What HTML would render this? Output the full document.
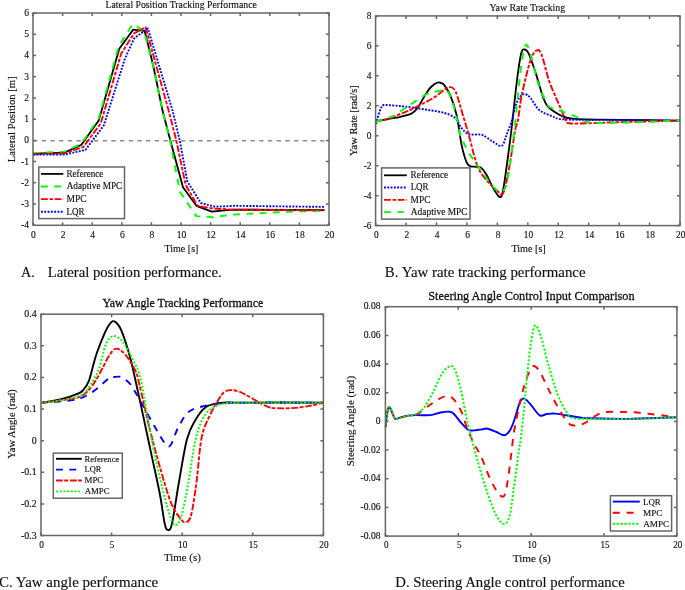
<!DOCTYPE html><html><head><meta charset="utf-8"><style>html,body{margin:0;padding:0;background:#fff;}svg{display:block;}</style></head><body>
<svg width="685" height="590" viewBox="0 0 685 590">
<rect width="685" height="590" fill="#fff"/>
<line x1="33" y1="140.68" x2="329" y2="140.68" stroke="#8c8c8c" stroke-width="1.6" stroke-dasharray="4.35 4.35"/>
<g stroke-linejoin="round">
<path d="M33,153.7 L64.5,152.6 L81.4,144.8 L98.7,120.4 L119.3,48.8 L133.2,29.6 L144.6,30.8 L153.3,65.8 L162.4,110.1 L168.6,133.9 L183,187.3 L196.4,205.8 L211.7,211.7 L232.6,209.6 L324.5,210.2" stroke="#000" stroke-width="1.8" fill="none" />
<path d="M33,153.2 L64.5,151.6 L81.4,143.6 L98.7,118.6 L118.6,46.5 L132.4,24.5 L138,27 L144.2,32 L153.3,65.8 L162.4,110.1 L170,140.3 L180,192 L196.4,216.1 L212.8,217.2 L232.6,214.6 L289.5,211.7 L324.5,210.7" stroke="#00ff00" stroke-width="1.9" fill="none" stroke-dasharray="6.9 6.4" />
<path d="M33,154.2 L64.5,153.4 L83.4,146.9 L100.7,123.5 L121.2,53.6 L134.1,33.3 L145.6,27.2 L168.5,110.1 L176.3,140.3 L185.6,184.7 L197.5,205.8 L212.8,208.5 L232.6,209.6 L324.5,210.4" stroke="#ff0000" stroke-width="1.9" fill="none" stroke-dasharray="6.9 1.6 3.5 1.6" />
<path d="M33,154.6 L64.5,154.6 L85.4,149.9 L103.8,125.5 L124.9,58.6 L134.1,38.4 L147.9,28.4 L172.4,110.1 L179.7,140.3 L187.3,181.4 L200.8,203 L215,206.7 L234.7,205.8 L324.5,206.9" stroke="#0000ff" stroke-width="1.9" fill="none" stroke-dasharray="1.9 1.4" />
</g>
<rect x="33" y="13" width="296" height="212.3" fill="none" stroke="#666" stroke-width="1.5"/>
<path d="M33,225.3 v-3 M33,13 v3 M62.6,225.3 v-3 M62.6,13 v3 M92.2,225.3 v-3 M92.2,13 v3 M121.8,225.3 v-3 M121.8,13 v3 M151.4,225.3 v-3 M151.4,13 v3 M181,225.3 v-3 M181,13 v3 M210.6,225.3 v-3 M210.6,13 v3 M240.2,225.3 v-3 M240.2,13 v3 M269.8,225.3 v-3 M269.8,13 v3 M299.4,225.3 v-3 M299.4,13 v3 M329,225.3 v-3 M329,13 v3 M33,225.3 h3 M329,225.3 h-3 M33,204.07 h3 M329,204.07 h-3 M33,182.84 h3 M329,182.84 h-3 M33,161.61 h3 M329,161.61 h-3 M33,140.38 h3 M329,140.38 h-3 M33,119.15 h3 M329,119.15 h-3 M33,97.92 h3 M329,97.92 h-3 M33,76.69 h3 M329,76.69 h-3 M33,55.46 h3 M329,55.46 h-3 M33,34.23 h3 M329,34.23 h-3 M33,13 h3 M329,13 h-3 " stroke="#666" stroke-width="1.5" fill="none"/>
<rect x="38.8" y="167" width="85.7" height="51.6" fill="#fff" stroke="#666" stroke-width="1.5"/>
<path d="M41,173.9 H63.3" stroke="#000" stroke-width="1.8" fill="none" />
<path d="M41,186.5 H63.3" stroke="#00ff00" stroke-width="1.9" fill="none" stroke-dasharray="6.9 6.4" />
<path d="M41,199.1 H63.3" stroke="#ff0000" stroke-width="1.9" fill="none" stroke-dasharray="6.9 1.6 3.5 1.6" />
<path d="M41,211.7 H63.3" stroke="#0000ff" stroke-width="1.9" fill="none" stroke-dasharray="1.9 1.4" />
<g stroke-linejoin="round">
<path d="M375.9,121.4 C377.23,121.15 381.28,120.4 383.9,119.9 C386.52,119.4 389.13,118.83 391.6,118.4 C394.07,117.97 396.47,117.77 398.7,117.3 C400.93,116.83 402.88,116.22 405,115.6 C407.12,114.98 409.33,114.82 411.4,113.6 C413.47,112.38 415,111.58 417.4,108.3 C419.8,105.02 423.45,97.53 425.8,93.9 C428.15,90.27 429.52,88.4 431.5,86.5 C433.48,84.6 436.03,83.05 437.7,82.5 C439.37,81.95 440.37,82.72 441.5,83.2 C442.63,83.68 443.02,83.33 444.5,85.4 C445.98,87.47 448.42,90.8 450.4,95.6 C452.38,100.4 454.53,105.97 456.4,114.2 C458.27,122.43 460.17,137.7 461.6,145 C463.03,152.3 464.07,154.93 465,158 C465.93,161.07 466.28,162.02 467.2,163.4 C468.12,164.78 469.03,165.73 470.5,166.3 C471.97,166.87 474.28,166.6 476,166.8 C477.72,167 479.1,166.27 480.8,167.5 C482.5,168.73 484.17,170.82 486.2,174.2 C488.23,177.58 490.85,184.07 493,187.8 C495.15,191.53 497.52,195.7 499.1,196.6 C500.68,197.5 501.27,198.05 502.5,193.2 C503.73,188.35 505.02,178.03 506.5,167.5 C507.98,156.97 509.67,144.45 511.4,130 C513.13,115.55 515.28,93.52 516.9,80.8 C518.52,68.08 519.83,58.92 521.1,53.7 C522.37,48.48 523.23,49.5 524.5,49.5 C525.77,49.5 526.87,49.88 528.7,53.7 C530.53,57.52 533.23,65.52 535.5,72.4 C537.77,79.28 540.38,89.48 542.3,95 C544.22,100.52 545.05,102.77 547,105.5 C548.95,108.23 551.27,109.55 554,111.4 C556.73,113.25 560.67,115.43 563.4,116.6 C566.13,117.77 566.52,117.92 570.4,118.4 C574.28,118.88 578.43,119.27 586.7,119.5 C594.97,119.73 604.45,119.6 620,119.8 C635.55,120 670,120.55 680,120.7" stroke="#000" stroke-width="1.8" fill="none" />
<path d="M375.9,124.1 C376.23,122.92 377.22,119.28 377.9,117 C378.58,114.72 379.35,112.13 380,110.4 C380.65,108.67 381.15,107.5 381.8,106.6 C382.45,105.7 382.57,105.23 383.9,105 C385.23,104.77 387.53,105.07 389.8,105.2 C392.07,105.33 394.93,105.57 397.5,105.8 C400.07,106.03 401.88,106.18 405.2,106.6 C408.52,107.02 413.27,107.68 417.4,108.3 C421.53,108.92 425.77,109.6 430,110.3 C434.23,111 438.68,111.28 442.8,112.5 C446.92,113.72 451.6,115.05 454.7,117.6 C457.8,120.15 459.32,125.13 461.4,127.8 C463.48,130.47 465.22,132.47 467.2,133.6 C469.18,134.73 470.82,134.38 473.3,134.6 C475.78,134.82 478.82,133.72 482.1,134.9 C485.38,136.08 489.72,139.88 493,141.7 C496.28,143.52 499.55,146.93 501.8,145.8 C504.05,144.67 504.8,139.2 506.5,134.9 C508.2,130.6 510.55,124.77 512,120 C513.45,115.23 513.87,110.13 515.2,106.3 C516.53,102.47 518.45,99.03 520,97 C521.55,94.97 522.77,93.97 524.5,94.1 C526.23,94.23 528,95.2 530.4,97.8 C532.8,100.4 535.35,106.67 538.9,109.7 C542.45,112.73 547.23,114.37 551.7,116 C556.17,117.63 554.32,118.85 565.7,119.5 C577.08,120.15 600.95,119.7 620,119.9 C639.05,120.1 670,120.57 680,120.7" stroke="#0000ff" stroke-width="1.9" fill="none" stroke-dasharray="1.9 1.4" />
<path d="M375.9,121.7 C377.23,121.4 381.28,120.58 383.9,119.9 C386.52,119.22 389.13,118.48 391.6,117.6 C394.07,116.72 396.43,115.5 398.7,114.6 C400.97,113.7 403.02,113.1 405.2,112.2 C407.38,111.3 408.83,110.65 411.8,109.2 C414.77,107.75 419.25,105.48 423,103.5 C426.75,101.52 430.8,99.55 434.3,97.3 C437.8,95.05 441.45,91.7 444,90 C446.55,88.3 447.68,86.87 449.6,87.1 C451.52,87.33 453.25,86.6 455.5,91.4 C457.75,96.2 460.98,108.98 463.1,115.9 C465.22,122.82 467.07,129.05 468.2,132.9 C469.33,136.75 468.37,133.47 469.9,139 C471.43,144.53 474.68,159.32 477.4,166.1 C480.12,172.88 483.15,175.85 486.2,179.7 C489.25,183.55 492.88,186.95 495.7,189.2 C498.52,191.45 500.85,196.82 503.1,193.2 C505.35,189.58 507.18,178.03 509.2,167.5 C511.22,156.97 513.73,137.92 515.2,130 C516.67,122.08 516.88,125.93 518,120 C519.12,114.07 519.83,104.32 521.9,94.4 C523.97,84.48 527.98,67.8 530.4,60.5 C532.82,53.2 534.57,51.65 536.4,50.6 C538.23,49.55 539.28,49.17 541.4,54.2 C543.52,59.23 546.42,72.97 549.1,80.8 C551.78,88.63 555.52,96.5 557.5,101.2 C559.48,105.9 559.63,105.85 561,109 C562.37,112.15 564.33,117.72 565.7,120.1 C567.07,122.48 565.7,122.77 569.2,123.3 C572.7,123.83 578.23,123.5 586.7,123.3 C595.17,123.1 604.45,122.53 620,122.1 C635.55,121.67 670,120.93 680,120.7" stroke="#ff0000" stroke-width="1.9" fill="none" stroke-dasharray="6.9 1.6 3.5 1.6" />
<path d="M375.9,121.7 C376.73,121.5 378.78,121.18 380.9,120.5 C383.02,119.82 386.32,118.43 388.6,117.6 C390.88,116.77 392.62,116.55 394.6,115.5 C396.58,114.45 398.63,112.58 400.5,111.3 C402.37,110.02 403.92,109.08 405.8,107.8 C407.68,106.52 408.47,105.78 411.8,103.6 C415.13,101.42 422.1,96.63 425.8,94.7 C429.5,92.77 431.17,92.7 434,92 C436.83,91.3 440.47,90.5 442.8,90.5 C445.13,90.5 446.02,88.88 448,92 C449.98,95.12 452.75,102.38 454.7,109.2 C456.65,116.02 458.3,127.48 459.7,132.9 C461.1,138.32 461.17,137.75 463.1,141.7 C465.03,145.65 468.13,151.63 471.3,156.6 C474.47,161.57 478.72,166.75 482.1,171.5 C485.48,176.25 488.32,181.7 491.6,185.1 C494.88,188.5 499.08,193.25 501.8,191.9 C504.52,190.55 505.75,187.85 507.9,177 C510.05,166.15 512.63,144.23 514.7,126.8 C516.77,109.37 518.53,85.93 520.3,72.4 C522.07,58.87 523.62,48.63 525.3,45.6 C526.98,42.57 528.13,47.48 530.4,54.2 C532.67,60.92 536.63,78.72 538.9,85.9 C541.17,93.08 542.27,93.83 544,97.3 C545.73,100.77 546.07,104.27 549.3,106.7 C552.53,109.13 558.72,110.15 563.4,111.9 C568.08,113.65 573.52,115.53 577.4,117.2 C581.28,118.87 583.2,120.93 586.7,121.9 C590.2,122.87 592.85,122.85 598.4,123 C603.95,123.15 606.4,123.18 620,122.8 C633.6,122.42 670,121.05 680,120.7" stroke="#00ff00" stroke-width="1.9" fill="none" stroke-dasharray="6.9 6.4" />
</g>
<rect x="375.6" y="15.9" width="304.4" height="209.7" fill="none" stroke="#666" stroke-width="1.5"/>
<path d="M375.6,225.6 v-3 M375.6,15.9 v3 M406.04,225.6 v-3 M406.04,15.9 v3 M436.48,225.6 v-3 M436.48,15.9 v3 M466.92,225.6 v-3 M466.92,15.9 v3 M497.36,225.6 v-3 M497.36,15.9 v3 M527.8,225.6 v-3 M527.8,15.9 v3 M558.24,225.6 v-3 M558.24,15.9 v3 M588.68,225.6 v-3 M588.68,15.9 v3 M619.12,225.6 v-3 M619.12,15.9 v3 M649.56,225.6 v-3 M649.56,15.9 v3 M680,225.6 v-3 M680,15.9 v3 M375.6,225.6 h3 M680,225.6 h-3 M375.6,195.64 h3 M680,195.64 h-3 M375.6,165.69 h3 M680,165.69 h-3 M375.6,135.73 h3 M680,135.73 h-3 M375.6,105.77 h3 M680,105.77 h-3 M375.6,75.81 h3 M680,75.81 h-3 M375.6,45.86 h3 M680,45.86 h-3 M375.6,15.9 h3 M680,15.9 h-3 " stroke="#666" stroke-width="1.5" fill="none"/>
<rect x="381.6" y="167.9" width="88.4" height="51.2" fill="#fff" stroke="#666" stroke-width="1.5"/>
<path d="M384,175.3 H406.8" stroke="#000" stroke-width="1.8" fill="none" />
<path d="M384,187.57 H406.8" stroke="#0000ff" stroke-width="1.9" fill="none" stroke-dasharray="1.9 1.4" />
<path d="M384,199.84 H406.8" stroke="#ff0000" stroke-width="1.9" fill="none" stroke-dasharray="6.9 1.6 3.5 1.6" />
<path d="M384,212.11 H406.8" stroke="#00ff00" stroke-width="1.9" fill="none" stroke-dasharray="6.9 6.4" />
<g stroke-linejoin="round">
<path d="M41,402.9 C44.22,402.32 54.03,401 60.3,399.4 C66.57,397.8 74.65,395.03 78.6,393.3 C82.55,391.57 82.3,391.03 84,389 C85.7,386.97 87.38,384.6 88.8,381.1 C90.22,377.6 91.15,372.73 92.5,368 C93.85,363.27 94.82,358.63 96.9,352.7 C98.98,346.77 102.98,337.02 105,332.4 C107.02,327.78 107.7,326.87 109,325 C110.3,323.13 111.55,321.53 112.8,321.2 C114.05,320.87 115.08,321.48 116.5,323 C117.92,324.52 119.15,325.02 121.3,330.3 C123.45,335.58 127.05,346.42 129.4,354.7 C131.75,362.98 133.03,369.47 135.4,380 C137.77,390.53 140.88,405.25 143.6,417.9 C146.32,430.55 149,443.25 151.7,455.9 C154.4,468.55 157.63,482.52 159.8,493.8 C161.97,505.08 163.35,517.58 164.7,523.6 C166.05,529.62 166.68,529.9 167.9,529.9 C169.12,529.9 170.18,531.42 172,523.6 C173.82,515.78 176.32,497 178.8,483 C181.28,469 184.2,449.98 186.9,439.6 C189.6,429.22 191.83,426.12 195,420.7 C198.17,415.28 201.83,410.05 205.9,407.1 C209.97,404.15 213.72,403.75 219.4,403 C225.08,402.25 222.67,402.67 240,402.6 C257.33,402.53 309.5,402.6 323.4,402.6" stroke="#000" stroke-width="1.9" fill="none" />
<path d="M41,402.9 C45.92,402.48 63.55,401.32 70.5,400.4 C77.45,399.48 78.63,399.08 82.7,397.4 C86.77,395.72 90.5,393.52 94.9,390.3 C99.3,387.08 105.92,380.32 109.1,378.1 C112.28,375.88 111.97,377.17 114,377 C116.03,376.83 118.73,376.07 121.3,377.1 C123.87,378.13 127.28,381.05 129.4,383.2 C131.52,385.35 132.1,386.92 134,390 C135.9,393.08 137.4,395.68 140.8,401.7 C144.2,407.72 150.33,419.1 154.4,426.1 C158.47,433.1 162.48,440.55 165.2,443.7 C167.92,446.85 168.43,447.93 170.7,445 C172.97,442.07 175.65,431.73 178.8,426.1 C181.95,420.47 185.08,414.6 189.6,411.2 C194.12,407.8 200.48,407.07 205.9,405.7 C211.32,404.33 214.75,403.52 222.1,403 C229.45,402.48 233.12,402.67 250,402.6 C266.88,402.53 311.17,402.6 323.4,402.6" stroke="#0000ff" stroke-width="1.9" fill="none" stroke-dasharray="6.9 6.4" />
<path d="M41,402.9 C44.17,402.5 53.38,401.58 60,400.5 C66.62,399.42 75.37,398.82 80.7,396.4 C86.03,393.98 88.62,390.23 92,386 C95.38,381.77 98.15,376.05 101,371 C103.85,365.95 106.57,359.43 109.1,355.7 C111.63,351.97 113.48,348.77 116.2,348.6 C118.92,348.43 122.18,350.97 125.4,354.7 C128.62,358.43 133.15,365.95 135.5,371 C137.85,376.05 137.25,375.82 139.5,385 C141.75,394.18 145.62,412.48 149,426.1 C152.38,439.72 156.18,454.05 159.8,466.7 C163.42,479.35 167.32,493.42 170.7,502 C174.08,510.58 177.62,514.82 180.1,518.2 C182.58,521.58 183.78,522.75 185.6,522.3 C187.42,521.85 189.2,522.05 191,515.5 C192.8,508.95 194.6,496.1 196.4,483 C198.2,469.9 199.32,448.65 201.8,436.9 C204.28,425.15 208.27,419.1 211.3,412.5 C214.33,405.9 217.75,400.77 220,397.3 C222.25,393.83 222.93,392.9 224.8,391.7 C226.67,390.5 228.78,390.1 231.2,390.1 C233.62,390.1 236.35,390.63 239.3,391.7 C242.25,392.77 245.7,394.77 248.9,396.5 C252.1,398.23 255.28,400.37 258.5,402.1 C261.72,403.83 265.25,405.88 268.2,406.9 C271.15,407.92 272.18,408 276.2,408.2 C280.22,408.4 286.95,408.45 292.3,408.1 C297.65,407.75 303.22,406.97 308.3,406.1 C313.38,405.23 320.38,403.43 322.8,402.9" stroke="#ff0000" stroke-width="1.9" fill="none" stroke-dasharray="6.8 1.4 4 1.8" />
<path d="M41,402.9 C44.17,402.5 53.38,401.75 60,400.5 C66.62,399.25 75.7,397.9 80.7,395.4 C85.7,392.9 86.97,389.9 90,385.5 C93.03,381.1 96.4,375.48 98.9,369 C101.4,362.52 103.23,351.68 105,346.6 C106.77,341.52 107.97,340.27 109.5,338.5 C111.03,336.73 112.53,336 114.2,336 C115.87,336 117.63,336.9 119.5,338.5 C121.37,340.1 123.07,341.88 125.4,345.6 C127.73,349.32 130.93,355.07 133.5,360.8 C136.07,366.53 137.77,366.87 140.8,380 C143.83,393.13 148.08,421.53 151.7,439.6 C155.32,457.67 159.33,475.3 162.5,488.4 C165.67,501.5 168.43,512.1 170.7,518.2 C172.97,524.3 174.3,525.45 176.1,525 C177.9,524.55 179.47,522.5 181.5,515.5 C183.53,508.5 186.05,495.2 188.3,483 C190.55,470.8 192.52,453.15 195,442.3 C197.48,431.45 200.03,423.77 203.2,417.9 C206.37,412.03 209.93,409.58 214,407.1 C218.07,404.62 221.6,403.75 227.6,403 C233.6,402.25 234.03,402.67 250,402.6 C265.97,402.53 311.17,402.6 323.4,402.6" stroke="#00ff00" stroke-width="1.9" fill="none" stroke-dasharray="2 1.7" />
</g>
<rect x="41" y="314.2" width="282.4" height="221.3" fill="none" stroke="#666" stroke-width="1.5"/>
<path d="M41,535.5 v-3 M41,314.2 v3 M111.6,535.5 v-3 M111.6,314.2 v3 M182.2,535.5 v-3 M182.2,314.2 v3 M252.8,535.5 v-3 M252.8,314.2 v3 M323.4,535.5 v-3 M323.4,314.2 v3 M41,535.5 h3 M323.4,535.5 h-3 M41,503.89 h3 M323.4,503.89 h-3 M41,472.27 h3 M323.4,472.27 h-3 M41,440.66 h3 M323.4,440.66 h-3 M41,409.04 h3 M323.4,409.04 h-3 M41,377.43 h3 M323.4,377.43 h-3 M41,345.81 h3 M323.4,345.81 h-3 M41,314.2 h3 M323.4,314.2 h-3 " stroke="#666" stroke-width="1.5" fill="none"/>
<rect x="53.3" y="453.1" width="69" height="45.1" fill="#fff" stroke="#666" stroke-width="1.5"/>
<path d="M56,458.8 H81.8" stroke="#000" stroke-width="1.9" fill="none" />
<path d="M56,469.67 H81.8" stroke="#0000ff" stroke-width="1.9" fill="none" stroke-dasharray="6.9 6.4" />
<path d="M56,480.54 H81.8" stroke="#ff0000" stroke-width="1.9" fill="none" stroke-dasharray="6.8 1.4 4 1.8" />
<path d="M56,491.41 H81.8" stroke="#00ff00" stroke-width="1.9" fill="none" stroke-dasharray="2 1.7" />
<g stroke-linejoin="round">
<path d="M385.7,427.2 C385.95,424.83 386.63,416.38 387.2,413 C387.77,409.62 388.38,407.23 389.1,406.9 C389.82,406.57 390.48,409.02 391.5,411 C392.52,412.98 393.78,417.7 395.2,418.8 C396.62,419.9 397.8,418.13 400,417.6 C402.2,417.07 405.58,416.02 408.4,415.6 C411.22,415.18 413.22,415.18 416.9,415.1 C420.58,415.02 426.55,415.53 430.5,415.1 C434.45,414.67 437.37,413.07 440.6,412.5 C443.83,411.93 447.63,411.42 449.9,411.7 C452.17,411.98 452.35,412.37 454.2,414.2 C456.05,416.03 458.75,420.15 461,422.7 C463.25,425.25 465.87,428.2 467.7,429.5 C469.53,430.8 469.45,430.55 472,430.5 C474.55,430.45 480.4,429.5 483,429.2 C485.6,428.9 485.37,428.23 487.6,428.7 C489.83,429.17 493.65,430.9 496.4,432 C499.15,433.1 501.9,435.48 504.1,435.3 C506.3,435.12 507.95,433.28 509.6,430.9 C511.25,428.52 512.3,425.72 514,421 C515.7,416.28 518.1,406.33 519.8,402.6 C521.5,398.87 522.35,398.23 524.2,398.6 C526.05,398.97 528.32,402.02 530.9,404.8 C533.48,407.58 537.02,413.77 539.7,415.3 C542.38,416.83 544.43,414.28 547,414 C549.57,413.72 551.92,413.38 555.1,413.6 C558.28,413.82 561.95,414.65 566.1,415.3 C570.25,415.95 575.87,417 580,417.5 C584.13,418 581.9,418.08 590.9,418.3 C599.9,418.52 619.82,418.98 634,418.8 C648.18,418.62 669,417.47 676,417.2" stroke="#0000ff" stroke-width="1.9" fill="none" />
<path d="M385.7,427.2 C385.95,424.83 386.63,416.38 387.2,413 C387.77,409.62 388.38,407.23 389.1,406.9 C389.82,406.57 390.48,409.02 391.5,411 C392.52,412.98 393.78,417.7 395.2,418.8 C396.62,419.9 397.8,418.13 400,417.6 C402.2,417.07 405.58,416.17 408.4,415.6 C411.22,415.03 413.5,415.83 416.9,414.2 C420.3,412.57 425.13,408.33 428.8,405.8 C432.47,403.27 435.8,400.65 438.9,399 C442,397.35 444.85,395.77 447.4,395.9 C449.95,396.03 451.93,397.32 454.2,399.8 C456.47,402.28 458.75,405.85 461,410.8 C463.25,415.75 465.45,423.85 467.7,429.5 C469.95,435.15 472.28,440.25 474.5,444.7 C476.72,449.15 478.45,450.62 481,456.2 C483.55,461.78 486.87,471.97 489.8,478.2 C492.73,484.43 496.22,490.67 498.6,493.6 C500.98,496.53 502.63,497.63 504.1,495.8 C505.57,493.97 506.3,488.83 507.4,482.6 C508.5,476.37 509.6,466.83 510.7,458.4 C511.8,449.97 512.72,440.07 514,432 C515.28,423.93 517.07,416.38 518.4,410 C519.73,403.62 520.48,399.35 522,393.7 C523.52,388.05 525.65,380.68 527.5,376.1 C529.35,371.52 531.07,366.93 533.1,366.2 C535.13,365.47 536.77,367.12 539.7,371.7 C542.63,376.28 547.03,386.72 550.7,393.7 C554.37,400.68 558.4,408.45 561.7,413.6 C565,418.75 567.52,422.75 570.5,424.6 C573.48,426.45 577,425.08 579.6,424.7 C582.2,424.32 583.68,423.63 586.1,422.3 C588.52,420.97 591.17,418.37 594.1,416.7 C597.03,415.03 599.68,413.1 603.7,412.3 C607.72,411.5 613.12,411.9 618.2,411.9 C623.28,411.9 628.85,411.95 634.2,412.3 C639.55,412.65 644.93,413.4 650.3,414 C655.67,414.6 662.12,415.32 666.4,415.9 C670.68,416.48 674.4,417.23 676,417.5" stroke="#ff0000" stroke-width="1.9" fill="none" stroke-dasharray="7 6.8" />
<path d="M385.7,427.2 C385.95,424.83 386.63,416.38 387.2,413 C387.77,409.62 388.38,407.23 389.1,406.9 C389.82,406.57 390.48,409.02 391.5,411 C392.52,412.98 393.78,417.7 395.2,418.8 C396.62,419.9 397.8,418.13 400,417.6 C402.2,417.07 406.15,416.02 408.4,415.6 C410.65,415.18 410.95,416.37 413.5,415.1 C416.05,413.83 420.32,412.1 423.7,408 C427.08,403.9 430.7,396.3 433.8,390.5 C436.9,384.7 439.47,377.3 442.3,373.2 C445.13,369.1 448.53,366.12 450.8,365.9 C453.07,365.68 454.2,367.8 455.9,371.9 C457.6,376 459.3,383.17 461,390.5 C462.7,397.83 464.43,408.25 466.1,415.9 C467.77,423.55 468.88,428.22 471,436.4 C473.12,444.58 476.03,455.47 478.8,465 C481.57,474.53 484.67,485.15 487.6,493.6 C490.53,502.05 493.65,510.63 496.4,515.7 C499.15,520.77 501.9,524 504.1,524 C506.3,524 507.95,521.87 509.6,515.7 C511.25,509.53 512.53,497.28 514,487 C515.47,476.72 517.25,462.2 518.4,454 C519.55,445.8 519.98,445.13 520.9,437.8 C521.82,430.47 522.98,419.18 523.9,410 C524.82,400.82 525.23,393.85 526.4,382.7 C527.57,371.55 529.42,352.65 530.9,343.1 C532.38,333.55 533.65,326.52 535.3,325.4 C536.95,324.28 538.6,329.78 540.8,336.4 C543,343.02 545.75,355.55 548.5,365.1 C551.25,374.65 554.37,385.98 557.3,393.7 C560.23,401.42 563.53,407.35 566.1,411.4 C568.67,415.45 568.72,416.77 572.7,418 C576.68,419.23 579.78,418.67 590,418.8 C600.22,418.93 619.67,419.07 634,418.8 C648.33,418.53 669,417.47 676,417.2" stroke="#00ff00" stroke-width="1.9" fill="none" stroke-dasharray="2.2 1.7" />
</g>
<rect x="385.4" y="306.7" width="291.5" height="229.4" fill="none" stroke="#666" stroke-width="1.5"/>
<path d="M385.4,536.1 v-3 M385.4,306.7 v3 M458.27,536.1 v-3 M458.27,306.7 v3 M531.15,536.1 v-3 M531.15,306.7 v3 M604.02,536.1 v-3 M604.02,306.7 v3 M676.9,536.1 v-3 M676.9,306.7 v3 M385.4,536.1 h3 M676.9,536.1 h-3 M385.4,507.43 h3 M676.9,507.43 h-3 M385.4,478.75 h3 M676.9,478.75 h-3 M385.4,450.08 h3 M676.9,450.08 h-3 M385.4,421.4 h3 M676.9,421.4 h-3 M385.4,392.73 h3 M676.9,392.73 h-3 M385.4,364.05 h3 M676.9,364.05 h-3 M385.4,335.38 h3 M676.9,335.38 h-3 M385.4,306.7 h3 M676.9,306.7 h-3 " stroke="#666" stroke-width="1.5" fill="none"/>
<rect x="610.4" y="495.7" width="61.2" height="35.3" fill="#fff" stroke="#666" stroke-width="1.5"/>
<path d="M612.8,501.6 H639.8" stroke="#0000ff" stroke-width="1.9" fill="none" />
<path d="M612.8,512.7 H639.8" stroke="#ff0000" stroke-width="1.9" fill="none" stroke-dasharray="7 6.8" />
<path d="M612.8,523.8 H639.8" stroke="#00ff00" stroke-width="1.9" fill="none" stroke-dasharray="2.2 1.7" />
<g style="filter:grayscale(1)" stroke="#111" stroke-width="0.15"><text x="33.5" y="238" font-size="10.4" font-family="Liberation Serif" fill="#111" text-anchor="middle" textLength="4.78" lengthAdjust="spacingAndGlyphs">0</text><text x="63.1" y="238" font-size="10.4" font-family="Liberation Serif" fill="#111" text-anchor="middle" textLength="4.78" lengthAdjust="spacingAndGlyphs">2</text><text x="92.7" y="238" font-size="10.4" font-family="Liberation Serif" fill="#111" text-anchor="middle" textLength="4.78" lengthAdjust="spacingAndGlyphs">4</text><text x="122.3" y="238" font-size="10.4" font-family="Liberation Serif" fill="#111" text-anchor="middle" textLength="4.78" lengthAdjust="spacingAndGlyphs">6</text><text x="151.9" y="238" font-size="10.4" font-family="Liberation Serif" fill="#111" text-anchor="middle" textLength="4.78" lengthAdjust="spacingAndGlyphs">8</text><text x="181.5" y="238" font-size="10.4" font-family="Liberation Serif" fill="#111" text-anchor="middle" textLength="9.57" lengthAdjust="spacingAndGlyphs">10</text><text x="211.1" y="238" font-size="10.4" font-family="Liberation Serif" fill="#111" text-anchor="middle" textLength="9.57" lengthAdjust="spacingAndGlyphs">12</text><text x="240.7" y="238" font-size="10.4" font-family="Liberation Serif" fill="#111" text-anchor="middle" textLength="9.57" lengthAdjust="spacingAndGlyphs">14</text><text x="270.3" y="238" font-size="10.4" font-family="Liberation Serif" fill="#111" text-anchor="middle" textLength="9.57" lengthAdjust="spacingAndGlyphs">16</text><text x="299.9" y="238" font-size="10.4" font-family="Liberation Serif" fill="#111" text-anchor="middle" textLength="9.57" lengthAdjust="spacingAndGlyphs">18</text><text x="329.5" y="238" font-size="10.4" font-family="Liberation Serif" fill="#111" text-anchor="middle" textLength="9.57" lengthAdjust="spacingAndGlyphs">20</text><text x="29" y="228.3" font-size="10.4" font-family="Liberation Serif" fill="#111" text-anchor="end" textLength="7.97" lengthAdjust="spacingAndGlyphs">-4</text><text x="29" y="207.07" font-size="10.4" font-family="Liberation Serif" fill="#111" text-anchor="end" textLength="7.97" lengthAdjust="spacingAndGlyphs">-3</text><text x="29" y="185.84" font-size="10.4" font-family="Liberation Serif" fill="#111" text-anchor="end" textLength="7.97" lengthAdjust="spacingAndGlyphs">-2</text><text x="29" y="164.61" font-size="10.4" font-family="Liberation Serif" fill="#111" text-anchor="end" textLength="7.97" lengthAdjust="spacingAndGlyphs">-1</text><text x="29" y="143.38" font-size="10.4" font-family="Liberation Serif" fill="#111" text-anchor="end" textLength="4.78" lengthAdjust="spacingAndGlyphs">0</text><text x="29" y="122.15" font-size="10.4" font-family="Liberation Serif" fill="#111" text-anchor="end" textLength="4.78" lengthAdjust="spacingAndGlyphs">1</text><text x="29" y="100.92" font-size="10.4" font-family="Liberation Serif" fill="#111" text-anchor="end" textLength="4.78" lengthAdjust="spacingAndGlyphs">2</text><text x="29" y="79.69" font-size="10.4" font-family="Liberation Serif" fill="#111" text-anchor="end" textLength="4.78" lengthAdjust="spacingAndGlyphs">3</text><text x="29" y="58.46" font-size="10.4" font-family="Liberation Serif" fill="#111" text-anchor="end" textLength="4.78" lengthAdjust="spacingAndGlyphs">4</text><text x="29" y="37.23" font-size="10.4" font-family="Liberation Serif" fill="#111" text-anchor="end" textLength="4.78" lengthAdjust="spacingAndGlyphs">5</text><text x="29" y="16" font-size="10.4" font-family="Liberation Serif" fill="#111" text-anchor="end" textLength="4.78" lengthAdjust="spacingAndGlyphs">6</text><text x="105.51" y="7.8" font-size="10.7" font-family="Liberation Serif" fill="#111" textLength="151.31" lengthAdjust="spacingAndGlyphs">Lateral Position Tracking Performance</text><text x="15" y="162.32" font-size="10.4" font-family="Liberation Serif" fill="#111" textLength="86.01" lengthAdjust="spacingAndGlyphs" transform="rotate(-90 15 162.32)">Lateral Position [m]</text><text x="164.5" y="251.7" font-size="10.4" font-family="Liberation Serif" fill="#111" textLength="33.86" lengthAdjust="spacingAndGlyphs">Time [s]</text><text x="66.53" y="176.9" font-size="9.7" font-family="Liberation Serif" fill="#111" textLength="36.87" lengthAdjust="spacingAndGlyphs">Reference</text><text x="66.71" y="189.47" font-size="9.7" font-family="Liberation Serif" fill="#111" textLength="55.58" lengthAdjust="spacingAndGlyphs">Adaptive MPC</text><text x="66.51" y="202.04" font-size="9.7" font-family="Liberation Serif" fill="#111" textLength="20.13" lengthAdjust="spacingAndGlyphs">MPC</text><text x="66.53" y="214.61" font-size="9.7" font-family="Liberation Serif" fill="#111" textLength="17.97" lengthAdjust="spacingAndGlyphs">LQR</text><text x="376.3" y="237.9" font-size="10.2" font-family="Liberation Serif" fill="#111" text-anchor="middle" textLength="4.69" lengthAdjust="spacingAndGlyphs">0</text><text x="406.74" y="237.9" font-size="10.2" font-family="Liberation Serif" fill="#111" text-anchor="middle" textLength="4.69" lengthAdjust="spacingAndGlyphs">2</text><text x="437.18" y="237.9" font-size="10.2" font-family="Liberation Serif" fill="#111" text-anchor="middle" textLength="4.69" lengthAdjust="spacingAndGlyphs">4</text><text x="467.62" y="237.9" font-size="10.2" font-family="Liberation Serif" fill="#111" text-anchor="middle" textLength="4.69" lengthAdjust="spacingAndGlyphs">6</text><text x="498.06" y="237.9" font-size="10.2" font-family="Liberation Serif" fill="#111" text-anchor="middle" textLength="4.69" lengthAdjust="spacingAndGlyphs">8</text><text x="528.5" y="237.9" font-size="10.2" font-family="Liberation Serif" fill="#111" text-anchor="middle" textLength="9.38" lengthAdjust="spacingAndGlyphs">10</text><text x="558.94" y="237.9" font-size="10.2" font-family="Liberation Serif" fill="#111" text-anchor="middle" textLength="9.38" lengthAdjust="spacingAndGlyphs">12</text><text x="589.38" y="237.9" font-size="10.2" font-family="Liberation Serif" fill="#111" text-anchor="middle" textLength="9.38" lengthAdjust="spacingAndGlyphs">14</text><text x="619.82" y="237.9" font-size="10.2" font-family="Liberation Serif" fill="#111" text-anchor="middle" textLength="9.38" lengthAdjust="spacingAndGlyphs">16</text><text x="650.26" y="237.9" font-size="10.2" font-family="Liberation Serif" fill="#111" text-anchor="middle" textLength="9.38" lengthAdjust="spacingAndGlyphs">18</text><text x="680.7" y="237.9" font-size="10.2" font-family="Liberation Serif" fill="#111" text-anchor="middle" textLength="9.38" lengthAdjust="spacingAndGlyphs">20</text><text x="371.5" y="229" font-size="10.2" font-family="Liberation Serif" fill="#111" text-anchor="end" textLength="7.82" lengthAdjust="spacingAndGlyphs">-6</text><text x="371.5" y="199.04" font-size="10.2" font-family="Liberation Serif" fill="#111" text-anchor="end" textLength="7.82" lengthAdjust="spacingAndGlyphs">-4</text><text x="371.5" y="169.09" font-size="10.2" font-family="Liberation Serif" fill="#111" text-anchor="end" textLength="7.82" lengthAdjust="spacingAndGlyphs">-2</text><text x="371.5" y="139.13" font-size="10.2" font-family="Liberation Serif" fill="#111" text-anchor="end" textLength="4.69" lengthAdjust="spacingAndGlyphs">0</text><text x="371.5" y="109.17" font-size="10.2" font-family="Liberation Serif" fill="#111" text-anchor="end" textLength="4.69" lengthAdjust="spacingAndGlyphs">2</text><text x="371.5" y="79.21" font-size="10.2" font-family="Liberation Serif" fill="#111" text-anchor="end" textLength="4.69" lengthAdjust="spacingAndGlyphs">4</text><text x="371.5" y="49.26" font-size="10.2" font-family="Liberation Serif" fill="#111" text-anchor="end" textLength="4.69" lengthAdjust="spacingAndGlyphs">6</text><text x="371.5" y="19.3" font-size="10.2" font-family="Liberation Serif" fill="#111" text-anchor="end" textLength="4.69" lengthAdjust="spacingAndGlyphs">8</text><text x="489.4" y="10.5" font-size="10.4" font-family="Liberation Serif" fill="#111" textLength="75.79" lengthAdjust="spacingAndGlyphs">Yaw Rate Tracking</text><text x="356.9" y="155.91" font-size="10.4" font-family="Liberation Serif" fill="#111" textLength="70.7" lengthAdjust="spacingAndGlyphs" transform="rotate(-90 356.9 155.91)">Yaw Rate [rad/s]</text><text x="511.4" y="251.7" font-size="10.4" font-family="Liberation Serif" fill="#111" textLength="34.37" lengthAdjust="spacingAndGlyphs">Time [s]</text><text x="410.62" y="177.9" font-size="9.7" font-family="Liberation Serif" fill="#111" textLength="37.58" lengthAdjust="spacingAndGlyphs">Reference</text><text x="410.63" y="190.23" font-size="9.7" font-family="Liberation Serif" fill="#111" textLength="17.97" lengthAdjust="spacingAndGlyphs">LQR</text><text x="410.62" y="202.56" font-size="9.7" font-family="Liberation Serif" fill="#111" textLength="19.92" lengthAdjust="spacingAndGlyphs">MPC</text><text x="410.81" y="214.89" font-size="9.7" font-family="Liberation Serif" fill="#111" textLength="56.79" lengthAdjust="spacingAndGlyphs">Adaptive MPC</text><text x="41.5" y="547.8" font-size="10" font-family="Liberation Serif" fill="#111" text-anchor="middle" textLength="4.6" lengthAdjust="spacingAndGlyphs">0</text><text x="112.1" y="547.8" font-size="10" font-family="Liberation Serif" fill="#111" text-anchor="middle" textLength="4.6" lengthAdjust="spacingAndGlyphs">5</text><text x="182.7" y="547.8" font-size="10" font-family="Liberation Serif" fill="#111" text-anchor="middle" textLength="9.2" lengthAdjust="spacingAndGlyphs">10</text><text x="253.3" y="547.8" font-size="10" font-family="Liberation Serif" fill="#111" text-anchor="middle" textLength="9.2" lengthAdjust="spacingAndGlyphs">15</text><text x="323.9" y="547.8" font-size="10" font-family="Liberation Serif" fill="#111" text-anchor="middle" textLength="9.2" lengthAdjust="spacingAndGlyphs">20</text><text x="36.6" y="538.5" font-size="9.4" font-family="Liberation Serif" fill="#111" text-anchor="end" textLength="15.62" lengthAdjust="spacingAndGlyphs">-0.3</text><text x="36.6" y="506.89" font-size="9.4" font-family="Liberation Serif" fill="#111" text-anchor="end" textLength="15.62" lengthAdjust="spacingAndGlyphs">-0.2</text><text x="36.6" y="475.27" font-size="9.4" font-family="Liberation Serif" fill="#111" text-anchor="end" textLength="15.62" lengthAdjust="spacingAndGlyphs">-0.1</text><text x="36.6" y="443.66" font-size="9.4" font-family="Liberation Serif" fill="#111" text-anchor="end" textLength="4.94" lengthAdjust="spacingAndGlyphs">0</text><text x="36.6" y="412.04" font-size="9.4" font-family="Liberation Serif" fill="#111" text-anchor="end" textLength="12.34" lengthAdjust="spacingAndGlyphs">0.1</text><text x="36.6" y="380.43" font-size="9.4" font-family="Liberation Serif" fill="#111" text-anchor="end" textLength="12.34" lengthAdjust="spacingAndGlyphs">0.2</text><text x="36.6" y="348.81" font-size="9.4" font-family="Liberation Serif" fill="#111" text-anchor="end" textLength="12.34" lengthAdjust="spacingAndGlyphs">0.3</text><text x="36.6" y="317.2" font-size="9.4" font-family="Liberation Serif" fill="#111" text-anchor="end" textLength="12.34" lengthAdjust="spacingAndGlyphs">0.4</text><text x="102.48" y="307.1" font-size="11.9" font-family="Liberation Serif" fill="#111" textLength="160.82" lengthAdjust="spacingAndGlyphs" stroke-width="0.3">Yaw Angle Tracking Performance</text><text x="14.8" y="458.7" font-size="10.6" font-family="Liberation Serif" fill="#111" textLength="69.37" lengthAdjust="spacingAndGlyphs" transform="rotate(-90 14.8 458.7)">Yaw Angle (rad)</text><text x="163.88" y="560.7" font-size="11.4" font-family="Liberation Serif" fill="#111" textLength="36.91" lengthAdjust="spacingAndGlyphs">Time (s)</text><text x="84.54" y="461.5" font-size="8.8" font-family="Liberation Serif" fill="#111" textLength="34.73" lengthAdjust="spacingAndGlyphs">Reference</text><text x="84.55" y="472.27" font-size="8.8" font-family="Liberation Serif" fill="#111" textLength="16.95" lengthAdjust="spacingAndGlyphs">LQR</text><text x="84.53" y="483.04" font-size="8.8" font-family="Liberation Serif" fill="#111" textLength="18.78" lengthAdjust="spacingAndGlyphs">MPC</text><text x="84.71" y="493.81" font-size="8.8" font-family="Liberation Serif" fill="#111" textLength="24.87" lengthAdjust="spacingAndGlyphs">AMPC</text><text x="386.3" y="548.2" font-size="9.8" font-family="Liberation Serif" fill="#111" text-anchor="middle" textLength="4.51" lengthAdjust="spacingAndGlyphs">0</text><text x="459.17" y="548.2" font-size="9.8" font-family="Liberation Serif" fill="#111" text-anchor="middle" textLength="4.51" lengthAdjust="spacingAndGlyphs">5</text><text x="532.05" y="548.2" font-size="9.8" font-family="Liberation Serif" fill="#111" text-anchor="middle" textLength="9.02" lengthAdjust="spacingAndGlyphs">10</text><text x="604.92" y="548.2" font-size="9.8" font-family="Liberation Serif" fill="#111" text-anchor="middle" textLength="9.02" lengthAdjust="spacingAndGlyphs">15</text><text x="677.8" y="548.2" font-size="9.8" font-family="Liberation Serif" fill="#111" text-anchor="middle" textLength="9.02" lengthAdjust="spacingAndGlyphs">20</text><text x="380.6" y="538.6" font-size="9.6" font-family="Liberation Serif" fill="#111" text-anchor="end" textLength="20" lengthAdjust="spacingAndGlyphs">-0.08</text><text x="380.6" y="509.93" font-size="9.6" font-family="Liberation Serif" fill="#111" text-anchor="end" textLength="20" lengthAdjust="spacingAndGlyphs">-0.06</text><text x="380.6" y="481.25" font-size="9.6" font-family="Liberation Serif" fill="#111" text-anchor="end" textLength="20" lengthAdjust="spacingAndGlyphs">-0.04</text><text x="380.6" y="452.58" font-size="9.6" font-family="Liberation Serif" fill="#111" text-anchor="end" textLength="20" lengthAdjust="spacingAndGlyphs">-0.02</text><text x="380.6" y="423.9" font-size="9.6" font-family="Liberation Serif" fill="#111" text-anchor="end" textLength="4.8" lengthAdjust="spacingAndGlyphs">0</text><text x="380.6" y="395.23" font-size="9.6" font-family="Liberation Serif" fill="#111" text-anchor="end" textLength="16.8" lengthAdjust="spacingAndGlyphs">0.02</text><text x="380.6" y="366.55" font-size="9.6" font-family="Liberation Serif" fill="#111" text-anchor="end" textLength="16.8" lengthAdjust="spacingAndGlyphs">0.04</text><text x="380.6" y="337.88" font-size="9.6" font-family="Liberation Serif" fill="#111" text-anchor="end" textLength="16.8" lengthAdjust="spacingAndGlyphs">0.06</text><text x="380.6" y="309.2" font-size="9.6" font-family="Liberation Serif" fill="#111" text-anchor="end" textLength="16.8" lengthAdjust="spacingAndGlyphs">0.08</text><text x="428.2" y="299.6" font-size="13.2" font-family="Liberation Serif" fill="#111" textLength="206.5" lengthAdjust="spacingAndGlyphs" stroke-width="0.3">Steering Angle Control Input Comparison</text><text x="354" y="466.31" font-size="11" font-family="Liberation Serif" fill="#111" textLength="90.4" lengthAdjust="spacingAndGlyphs" transform="rotate(-90 354 466.31)">Steering Angle (rad)</text><text x="512.77" y="561.6" font-size="11.2" font-family="Liberation Serif" fill="#111" textLength="38.04" lengthAdjust="spacingAndGlyphs">Time (s)</text><text x="643.03" y="504.7" font-size="9.2" font-family="Liberation Serif" fill="#111" textLength="17.77" lengthAdjust="spacingAndGlyphs">LQR</text><text x="643.03" y="515.6" font-size="9.2" font-family="Liberation Serif" fill="#111" textLength="19.3" lengthAdjust="spacingAndGlyphs">MPC</text><text x="643.21" y="526.5" font-size="9.2" font-family="Liberation Serif" fill="#111" textLength="25.99" lengthAdjust="spacingAndGlyphs">AMPC</text><text x="20.96" y="276.6" font-size="14.6" font-family="Liberation Serif" fill="#111" textLength="13.8" lengthAdjust="spacingAndGlyphs">A.</text><text x="47.66" y="276.6" font-size="14.6" font-family="Liberation Serif" fill="#111" textLength="174.11" lengthAdjust="spacingAndGlyphs">Lateral position performance.</text><text x="384.86" y="276.6" font-size="14.6" font-family="Liberation Serif" fill="#111" textLength="200.72" lengthAdjust="spacingAndGlyphs">B. Yaw rate tracking performance</text><text x="-1.1" y="586.7" font-size="14.8" font-family="Liberation Serif" fill="#111" textLength="159.29" lengthAdjust="spacingAndGlyphs">C. Yaw angle performance</text><text x="395.26" y="586.7" font-size="14.6" font-family="Liberation Serif" fill="#111" textLength="229.43" lengthAdjust="spacingAndGlyphs">D. Steering Angle control performance</text></g>
</svg></body></html>
